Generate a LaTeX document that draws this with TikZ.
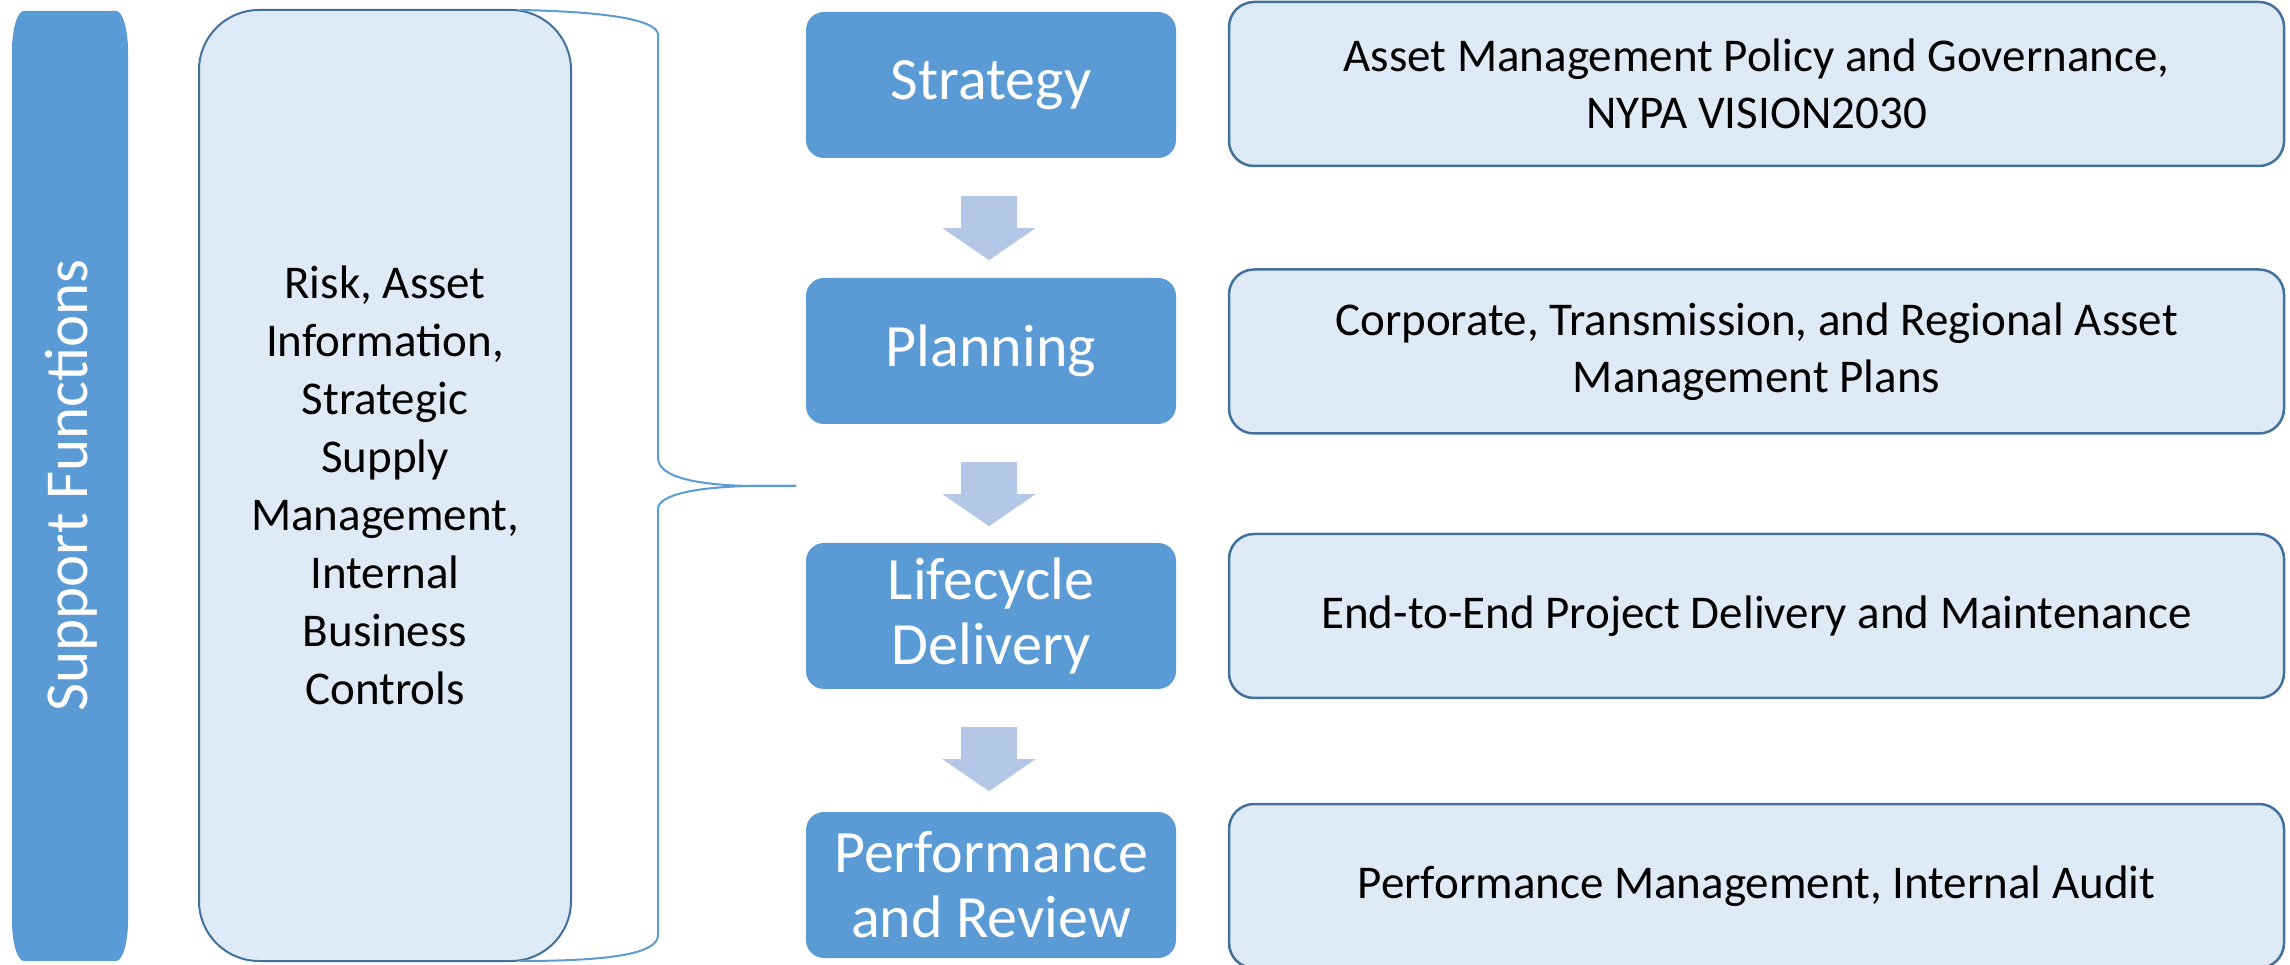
\documentclass[tikz,border=0pt]{standalone}
\usepackage{fontspec}
\setmainfont{Carlito}
\usetikzlibrary{calc}

\definecolor{accent}{RGB}{91,155,213}
\definecolor{paleblue}{RGB}{222,235,247}
\definecolor{edgeblue}{RGB}{65,113,156}
\definecolor{arrowblue}{RGB}{180,199,231}

\tikzset{
  stagebox/.style={fill=accent, draw=none, rounded corners=18pt,
    minimum width=370pt, minimum height=146pt, inner sep=0pt,
    text=white, align=center, font=\fontsize{60}{65}\selectfont},
  detailbox/.style={fill=paleblue, draw=edgeblue, line width=2.5pt,
    rounded corners=25pt, minimum width=1055pt, minimum height=164pt,
    inner sep=0pt, align=center, font=\fontsize{47}{57}\selectfont},
  supportbox/.style={fill=paleblue, draw=edgeblue, line width=2pt,
    rounded corners=60pt, minimum width=372pt, minimum height=951pt,
    inner sep=0pt, align=center, font=\fontsize{47}{58}\selectfont},
  bracestyle/.style={draw=accent, line width=2pt},
  flowarrow/.style={fill=arrowblue, draw=none},
}

% block arrow hanging below a stage box
\newcommand{\stagearrow}[1]{%
  \begin{scope}[shift={($(#1.south)+(-2,-38)$)}]
    \fill[flowarrow] (-28,0) -- (28,0) -- (28,-32) -- (46.5,-32)
      -- (0,-64) -- (-46.5,-32) -- (-28,-32) -- cycle;
  \end{scope}}

\begin{document}
\begin{tikzpicture}[x=1pt, y=1pt]
  \useasboundingbox (0,0) rectangle (2290,964);
  \clip (0,0) rectangle (2290,964);

  % vertical "Support Functions" bar
  \fill[accent] (12,43) -- (12,913)
    arc[start angle=180, end angle=90, x radius=12, y radius=40]
    -- (116,953)
    arc[start angle=90, end angle=0, x radius=12, y radius=40]
    -- (128,43)
    arc[start angle=0, end angle=-90, x radius=12, y radius=40]
    -- (24,3)
    arc[start angle=270, end angle=180, x radius=12, y radius=40]
    -- cycle;
  \node[rotate=90, anchor=base, text=white, inner sep=0pt,
        font=\fontsize{61}{70}\selectfont] (supporttitle) at (87,478.5)
    {Support Functions};

  % support functions box
  \node[supportbox] (support) at (385,478.5)
    {Risk, Asset\\Information,\\Strategic\\Supply\\Management,\\Internal\\Business\\Controls};

  % brace gathering the support functions
  \draw[bracestyle] (520,954) .. controls (620,952) and (658,942) .. (658,929)
    -- (658,506) .. controls (658,486) and (700,479) .. (750,478) -- (796,478);
  \draw[bracestyle] (796,478) -- (750,478)
    .. controls (700,477) and (658,470) .. (658,455)
    -- (658,29) .. controls (658,12) and (620,3) .. (520,3);

  % lifecycle stages
  \node[stagebox] (strategy) at (991,879) {Strategy};
  \node[stagebox] (planning) at (991,613) {Planning};
  \node[stagebox] (lifecycle) at (991,348) {Lifecycle\\Delivery};
  \node[stagebox] (performance) at (991,79) {Performance\\and Review};

  \stagearrow{strategy}
  \stagearrow{planning}
  \stagearrow{lifecycle}

  % details for each stage
  \node[detailbox] (policy) at (1756.5,880)
    {Asset Management Policy and Governance,\\NYPA VISION2030};
  \node[detailbox] (plans) at (1756.5,612.5)
    {Corporate, Transmission, and Regional Asset\\Management Plans};
  \node[detailbox] (delivery) at (1756.5,348)
    {End-to-End Project Delivery and Maintenance};
  \node[detailbox] (audit) at (1756.5,78)
    {Performance Management, Internal Audit};
\end{tikzpicture}
\end{document}
